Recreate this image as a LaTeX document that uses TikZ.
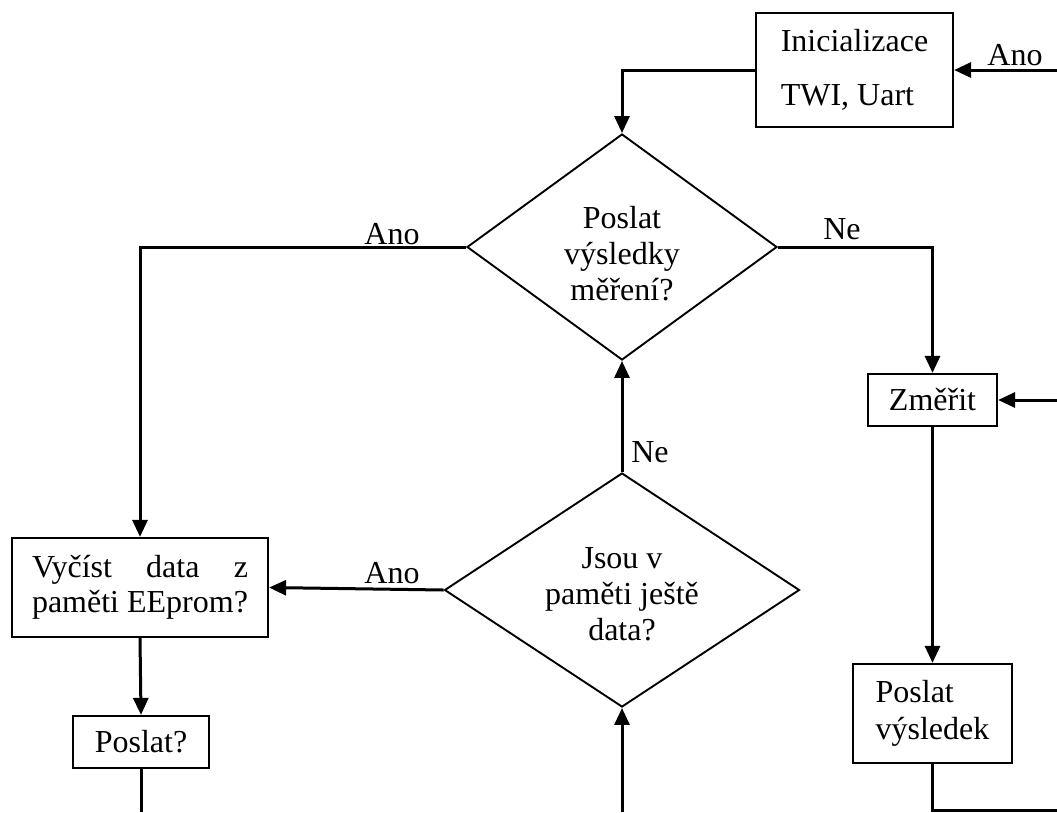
\documentclass[tikz,border=0pt]{standalone}
\usepackage{fontspec}
\setmainfont{Liberation Serif}
\usetikzlibrary{shapes.geometric,arrows.meta}
\begin{document}
\begin{tikzpicture}[x=1pt,y=-1pt,
  every node/.style={font=\fontsize{32}{36}\selectfont},
  boxnode/.style={draw,line width=2.2pt,inner sep=0pt},
  decnode/.style={draw,shape=diamond,line width=1.9pt,inner sep=0pt},
  conn/.style={line width=3pt},
  arr/.style={conn,-{Triangle[length=17pt,width=15pt]}},
  lbl/.style={anchor=base,inner sep=0pt}
]
\useasboundingbox (0,0) rectangle (1057,812);

% boxes
\node[boxnode,minimum width=197pt,minimum height=114pt,align=left,
      font=\fontsize{32}{54}\selectfont] (init) at (854.5,70) {Inicializace\\TWI, Uart};
\node[boxnode,minimum width=129pt,minimum height=52pt] (zmerit) at (932.5,400) {Změřit};
\node[boxnode,minimum width=159pt,minimum height=99pt,align=left,
      font=\fontsize{32}{37}\selectfont] (pv) at (932.5,713.5) {Poslat\\výsledek};
\node[boxnode,minimum width=256pt,minimum height=99pt,text width=216pt,align=justify,
      font=\fontsize{32}{35}\selectfont] (vycist) at (140,587.5) {Vyčíst data z \linebreak paměti EEprom?};
\node[boxnode,minimum width=136pt,minimum height=52pt] (poslatq) at (141,742) {Poslat?};

% decisions
\node[decnode,minimum width=310pt,minimum height=226pt] (d1) at (622,247) {};
\node[align=center,inner sep=0pt] (d1t) at (622,254) {Poslat\\výsledky\\měření?};
\node[decnode,minimum width=355pt,minimum height=234pt] (d2) at (622,590) {};
\node[align=center,inner sep=0pt] (d2t) at (622,594) {Jsou v\\paměti ještě\\data?};

% free ends
\coordinate (inR) at (1057,70);
\coordinate (zR) at (1057,400);
\coordinate (pvB) at (932.5,810);
\coordinate (pvR) at (1057,810);
\coordinate (d2B) at (622,812);
\coordinate (pqB) at (141,812);

% connectors
\draw[arr] (inR) -- (init.east);
\node[lbl] (lano1) at (1015,65) {Ano};
\draw[arr] (init.west) -| (d1.north);
\draw[arr] (d1.west) -| (vycist.north);
\node[lbl] (lano2) at (392,244) {Ano};
\draw[arr] (d1.east) -| (zmerit.north);
\node[lbl] (lne1) at (842,239) {Ne};
\draw[arr] (zR) -- (zmerit.east);
\draw[arr] (zmerit.south) -- (pv.north);
\draw[conn] (pv.south) -- (pvB) -- (pvR);
\draw[arr] (d2.north) -- (d1.south);
\node[lbl] (lne2) at (650,462) {Ne};
\draw[arr] (d2.west) -- (vycist.east);
\node[lbl] (lano3) at (392,583) {Ano};
\draw[arr] (vycist.south) -- (poslatq.north);
\draw[conn] (poslatq.south) -- (pqB);
\draw[arr] (d2B) -- (d2.south);
\end{tikzpicture}
\end{document}
